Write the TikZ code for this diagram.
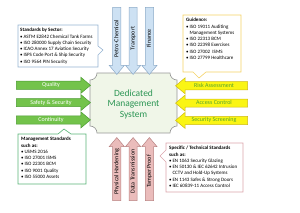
\documentclass[tikz,border=0pt]{standalone}
\usepackage{fontspec}
\setmainfont{Carlito}
\usepackage{tikz}
\usetikzlibrary{shapes.arrows}
\definecolor{secFill}{RGB}{205,225,243}
\definecolor{secBorder}{RGB}{140,170,200}
\definecolor{hardFill}{RGB}{234,188,187}
\definecolor{hardBorder}{RGB}{185,130,130}
\definecolor{qualFill}{RGB}{115,195,75}
\definecolor{qualBorder}{RGB}{75,155,50}
\definecolor{riskFill}{RGB}{250,245,20}
\definecolor{riskBorder}{RGB}{205,185,20}
\definecolor{riskText}{RGB}{85,165,45}
\definecolor{dmsFill}{RGB}{240,246,232}
\definecolor{dmsBorder}{RGB}{150,150,150}
\definecolor{dmsText}{RGB}{45,150,85}
\definecolor{noteBlue}{RGB}{150,180,210}
\definecolor{noteYellow}{RGB}{245,210,100}
\definecolor{noteGreen}{RGB}{90,180,120}
\definecolor{notePink}{RGB}{220,165,172}

\tikzset{
  flow/.style={single arrow,line width=0.5pt,inner xsep=2pt,inner ysep=1pt,
    text height=4.3pt,text depth=1.4pt,single arrow tip angle=80,
    font=\fontsize{6}{7}\selectfont},
  sector/.style={flow,draw=secBorder,fill=secFill,rotate=90,shape border rotate=180,
    minimum height=67pt,single arrow head extend=3.5pt},
  hardening/.style={flow,draw=hardBorder,fill=hardFill,rotate=90,
    minimum height=63pt,single arrow head extend=3.5pt},
  quality/.style={flow,draw=qualBorder,fill=qualFill,text=white,
    minimum height=74pt,single arrow head extend=4pt},
  risk/.style={flow,draw=riskBorder,fill=riskFill,text=riskText,shape border rotate=180,
    minimum height=72pt,single arrow head extend=4pt},
  note/.style={line width=0.6pt,fill=white},
  notetext/.style={anchor=north west,inner sep=0pt,align=left,font=\fontsize{5}{6.3}\selectfont},
}

\begin{document}
\begin{tikzpicture}[x=1pt,y=-1pt]
  \useasboundingbox (0,0) rectangle (300,212);

  % central system
  \draw[draw=dmsBorder,fill=dmsFill,line width=0.6pt]
    (97,73) -- (170,73) .. controls (170,76.9) and (173.1,80) .. (177,80)
    -- (177,126) .. controls (173.1,126) and (170,129.1) .. (170,133)
    -- (97,133) .. controls (97,129.1) and (93.9,126) .. (90,126)
    -- (90,80) .. controls (93.9,80) and (97,76.9) .. (97,73) -- cycle;
  \node[align=center,text=dmsText,font=\fontsize{9.5}{10.5}\selectfont] (dms) at (133.5,104)
    {Dedicated\\Management\\System};

  % sectors (top) and hardening (bottom)
  \foreach \name/\txt [count=\i] in {petro/Petro-Chemical,transport/Transport,finance/Finance}
    \node[sector] (\name) at (100.5+\i*16.3,38.5) {\txt};
  \foreach \name/\txt [count=\i] in {physical/Physical Hardening,data/Data Transmission,tamper/Tamper Proof}
    \node[hardening] (\name) at (100.5+\i*16.3,171.5) {\txt};

  % management (left) and security (right)
  \foreach \name/\txt [count=\i] in {quality/Quality,safety/Safety \& Security,continuity/Continuity}
    \node[quality] (\name) at (51,68+\i*17.3) {\txt};
  \foreach \name/\txt [count=\i] in {riskass/Risk Assessment,access/Access Control,screening/Security Screening}
    \node[risk] (\name) at (214,68.5+\i*17.3) {\txt};

  % call-outs
  \draw[note,draw=noteBlue] (18,25) -- (98,25) -- (98,46) -- (103,50) -- (98,55) -- (98,67) -- (18,67) -- cycle;
  \node[notetext] (bysector) at (20,28) {\textbf{Standards by Sector:}\\
    •\,ASTM E2842 Chemical Tank Farms\\
    •\,ISO 280000 Supply Chain Security\\
    •\,ICAO Annex 17 Aviation Security\\
    •\,ISPS Code Port \& Ship Security\\
    •\,ISO 9564 PIN Security};

  \draw[note,draw=noteYellow] (183,15) -- (241,15) -- (241,72) -- (206,72) -- (199,78) -- (193,72) -- (183,72) -- cycle;
  \node[notetext] (guidance) at (186,18) {\textbf{Guidence:}\\
    •\,ISO 19011 Auditing\\
    \hphantom{•\,}Management Systems\\
    •\,ISO 22313 BCM\\
    •\,ISO 22398 Exercises\\
    •\,ISO 27002\ \ ISMS\\
    •\,ISO 27799 Healthcare};

  \draw[note,draw=noteGreen] (18,134) -- (58,134) -- (64,129) -- (71,134) -- (86,134) -- (86,184) -- (18,184) -- cycle;
  \node[notetext] (mgmt) at (21,137) {\textbf{Management Standards}\\
    \textbf{such as:}\\
    •\,USMS 2016\\
    •\,ISO 27001 ISMS\\
    •\,ISO 22301 BCM\\
    •\,ISO 9001 Quality\\
    •\,ISO 55000 Assets};

  \draw[note,draw=notePink] (166,143) -- (243,143) -- (243,192) -- (166,192) -- (166,162) -- (160,156) -- (166,150) -- cycle;
  \node[notetext] (technical) at (169,146) {\textbf{Specific / Technical Standards}\\
    \textbf{such as:}\\
    •\,EN 1063 Security Glazing\\
    •\,EN 50130 \& IEC 62642 Intrusion\\
    \hphantom{•\,}CCTV and Hold-Up Systems\\
    •\,EN 1143 Safes \& Strong Doors\\
    •\,IEC 60839-11 Access Control};
\end{tikzpicture}
\end{document}
